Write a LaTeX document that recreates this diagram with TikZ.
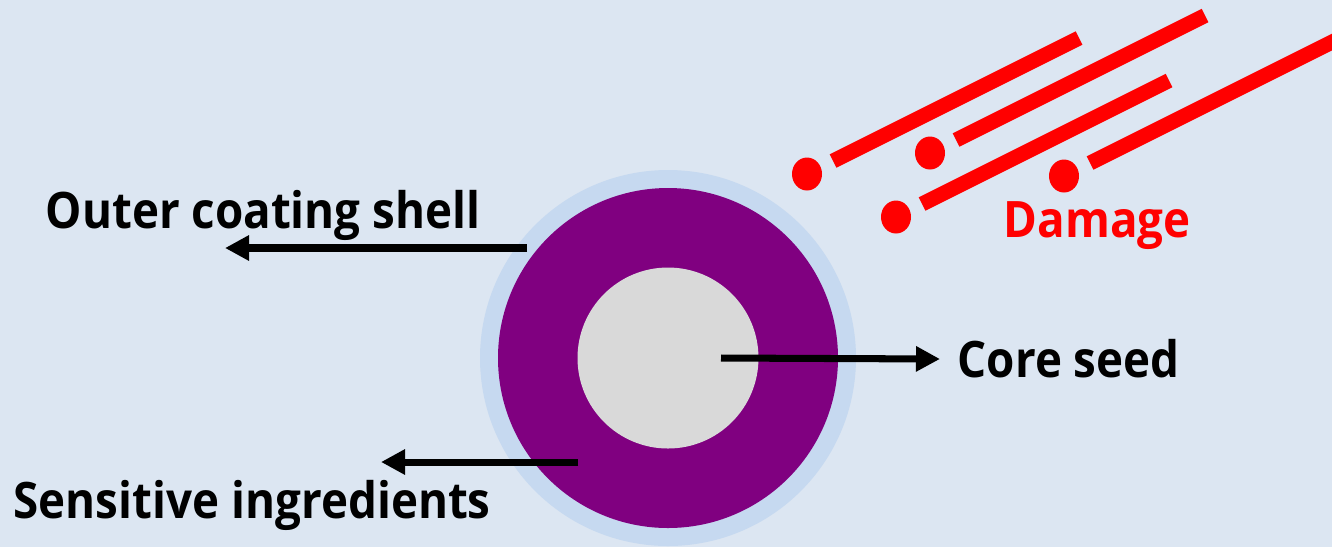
\documentclass[tikz,border=0pt]{standalone}
\usepackage{fontspec}
\setmainfont{Open Sans}[FakeStretch=0.91]
\usetikzlibrary{arrows.meta,shapes.geometric}

\definecolor{paleblue}{HTML}{DCE6F2}
\definecolor{shellblue}{HTML}{C6D9F0}
\definecolor{ringpurple}{HTML}{800080}
\definecolor{coregray}{HTML}{D9D9D9}

\begin{document}
\begin{tikzpicture}[x=0.1mm,y=-0.1mm]

      \fill[paleblue] (0,0) rectangle (1332,547);
      \useasboundingbox (0,0) rectangle (1332,547);

      \begin{scope}[every node/.style={circle, inner sep=0pt}]
        \node[fill=shellblue,  minimum size=37.6mm] (shell) at (668,358) {};
        \node[fill=ringpurple, minimum size=34mm]   (ring)  at (668,358) {};
        \node[fill=coregray,   minimum size=18.1mm] (core)  at (668,358) {};
      \end{scope}

      \begin{scope}[every node/.style={anchor=base west, inner sep=0pt,
          font=\bfseries\fontsize{14.3}{16}\selectfont}]
        \node (outer) at (45,228)  {Outer coating shell};
        \node (sens)  at (13,518)  {Sensitive ingredients};
        \node (seed)  at (957,377) {Core seed};
        \node[text=red] (dmg) at (1003,237) {Damage};
      \end{scope}

      \coordinate (p1) at (527,248);
      \coordinate (q1) at (225,248);
      \coordinate (p2) at (578,462);
      \coordinate (q2) at (381,462);
      \coordinate (p3) at (core.center);
      \coordinate (q3) at (940,359);

      \begin{scope}[line width=2pt, -{Triangle[length=2.4mm,width=2.4mm]}]
        \draw (p1) -- (q1);
        \draw (p2) -- (q2);
        \draw ([xshift=5.3mm]p3) -- (q3);
      \end{scope}

      \begin{scope}[every node/.style={ellipse, fill=red, inner sep=0pt,
          minimum width=3mm, minimum height=3.3mm}]
        \node (d1) at (807,174)  {};
        \node (d2) at (930,153)  {};
        \node (d3) at (896,217)  {};
        \node (d4) at (1064,176) {};
      \end{scope}

      \begin{scope}
        \clip (0,0) rectangle (1332,547);
        \foreach \d/\len in {d1/246, d2/249, d3/247, d4/300}
          \draw[red, line width=1.5mm] ([shift={(26,-13)}]\d.center) -- ++(\len,-\len/2);
      \end{scope}

    \end{tikzpicture}
\end{document}
